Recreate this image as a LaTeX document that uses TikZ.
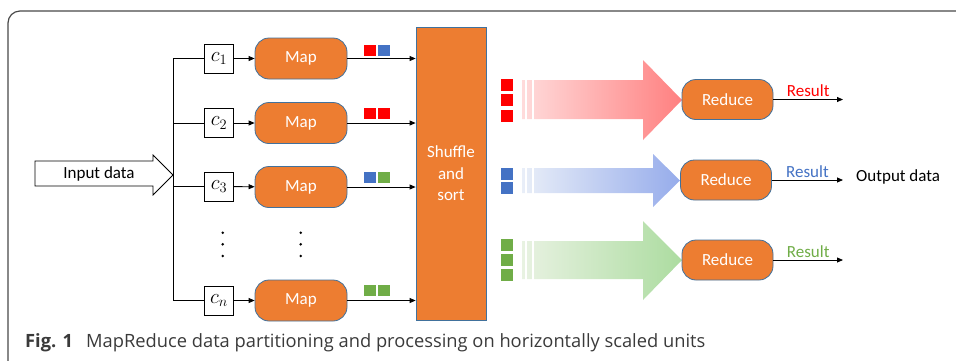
\documentclass[tikz,border=0pt]{standalone}
\usepackage{fontspec}
\setmainfont{Carlito}
\newfontfamily\capfont{Open Sans}
\usetikzlibrary{arrows.meta}
\definecolor{orng}{HTML}{ED7D31}
\definecolor{bord}{HTML}{41719C}
\definecolor{cred}{HTML}{FF0000}
\definecolor{cblue}{HTML}{4472C4}
\definecolor{cgreen}{HTML}{70AD47}
\definecolor{frame}{HTML}{484848}
\definecolor{captc}{HTML}{3A3A3A}
\begin{document}
\begin{tikzpicture}[x=1pt,y=-1pt,
  every node/.style={font=\fontsize{17}{21.5}\selectfont},
  cbox/.style={draw, fill=white, minimum width=29pt, minimum height=29pt, inner sep=0pt, line width=0.8pt, font=\fontsize{21.5}{24}\selectfont},
  proc/.style={draw=bord, fill=orng, text=white, rounded corners=14pt, minimum height=41pt, minimum width=92pt, inner sep=0pt, line width=0.8pt},
  red/.style={proc, minimum width=91pt, minimum height=40pt},
  arr/.style={-{Triangle[length=6pt,width=5pt]}, line width=0.8pt},
  ln/.style={line width=0.8pt},
  res/.style={midway, above, inner sep=2pt},
  capf/.style={font=\capfont\fontsize{18.3}{20}\selectfont, text=captc, inner sep=0pt, anchor=base west}
]
\clip (0,0) rectangle (956,360);
% frame
\draw[line width=1.2pt, draw=frame, rounded corners=12pt] (8,11) rectangle (990,385);

% input arrow
\draw[ln, fill=white] (35,161) -- (153,161) -- (153,155) -- (173,175) -- (153,195) -- (153,186) -- (35,186) -- cycle;
\node (inp) at (99,173.5) {Input data};

% split boxes
\node[cbox] (c1) at (219,58.5) {$c_1$};
\node[cbox] (c2) at (219,123) {$c_2$};
\node[cbox] (c3) at (219,186.5) {$c_3$};
\node[cbox] (cn) at (219,300.5) {$c_n$};
\coordinate (bus) at (173.3,300.5);
\draw[ln] (c1.west) -| (bus) -- (cn.west);
\draw[ln] (c2.west) -- (c2.west -| bus);
\draw[ln] (c3.west) -- (c3.west -| bus);

% maps
\node[proc] (m1) at (301,58.5) {Map};
\node[proc] (m2) at (301,123) {Map};
\node[proc] (m3) at (301,187) {Map};
\node[proc] (mn) at (301,300.5) {Map};
\foreach \i in {1,2,3,n} \draw[arr] (c\i) -- (m\i);

% dots
\foreach \x in {222.7,300.7} \foreach \y in {232.7,244.3,256} \fill (\x,\y) circle (1.4pt);

% shuffle
\node[proc, rounded corners=0pt, minimum width=70pt, minimum height=293pt, align=center] (sh) at (451,173.5) {Shuffle\\and\\sort};
\foreach \i in {1,2,3,n} \draw[arr] (m\i.east) -- (m\i.east -| sh.west);

% map output squares
\fill[cred] (364,45) rectangle ++(12,11);
\fill[cblue] (378,45) rectangle ++(12,11);
\fill[cred] (364,108) rectangle ++(12,11);
\fill[cred] (378,108) rectangle ++(12,11);
\fill[cblue] (364,172) rectangle ++(12,11);
\fill[cgreen] (378,172) rectangle ++(12,11);
\fill[cgreen] (364,285) rectangle ++(12,11);
\fill[cgreen] (378,285) rectangle ++(12,11);

% shuffled squares
\foreach \y in {85,100,116} \fill[cred] (501,\y-6) rectangle ++(12,12);
\foreach \y in {173.5,188} \fill[cblue] (501,\y-6) rectangle ++(12,12);
\foreach \y in {245,260,275} \fill[cgreen] (501,\y-6) rectangle ++(12,12);

% big gradient arrows
\shade[left color=cred!14!white, right color=cred!50!white]
  (522,80) -- (643,80) -- (643,60) -- (682,100) -- (643,140) -- (643,119) -- (522,119) -- cycle;
\shade[left color=cblue!12!white, right color={rgb,255:red,150;green,172;blue,235}]
  (522,168) -- (653,168) -- (653,154) -- (680,180.5) -- (653,207) -- (653,193) -- (522,193) -- cycle;
\shade[left color=cgreen!16!white, right color={rgb,255:red,172;green,220;blue,160}]
  (522,241) -- (643,241) -- (643,221) -- (682,260) -- (643,300) -- (643,279) -- (522,279) -- cycle;
\foreach \a/\b in {80/119,168/193,241/279}{
  \fill[white] (525,\a-1) rectangle (527,\b+1);
  \fill[white] (532,\a-1) rectangle (534,\b+1);
}

% reducers
\node[red] (r1) at (727.5,99.5) {Reduce};
\node[red] (r2) at (726,180) {Reduce};
\node[red] (r3) at (727.5,260) {Reduce};
\coordinate (e1) at (843,99.5);
\coordinate (e2) at (843,180);
\coordinate (e3) at (843,260);
\draw[arr] (r1.east) -- (e1) node[res, text=cred] {Result};
\draw[arr] (r2.east) -- (e2) node[res, text=cblue] {Result};
\draw[arr] (r3.east) -- (e3) node[res, text=cgreen] {Result};
\node[anchor=west, inner sep=0pt] (out) at (856,176.5) {Output data};

% caption
\node[capf, font=\capfont\bfseries\fontsize{18.3}{20}\selectfont] (fig) at (25,347) {Fig. 1};
\node[capf] (cap) at (86,347) {MapReduce data partitioning and processing on horizontally scaled units};
\end{tikzpicture}
\end{document}
